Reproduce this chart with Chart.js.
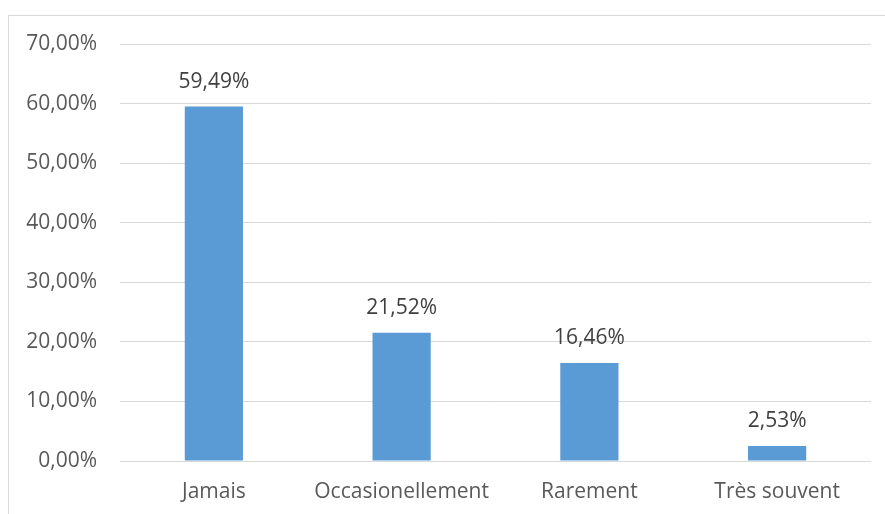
<!DOCTYPE html>
<html lang="fr">
<head>
  <meta charset="UTF-8">
  <title>Fréquence</title>
  <script src="https://cdn.jsdelivr.net/npm/chart.js@4.4.0/dist/chart.umd.min.js"></script>
  <style>
    html, body { margin: 0; padding: 0; background: #fff; }
    #wrap { width: 885px; height: 514px; position: relative; }
  </style>
</head>
<body>
  <div id="wrap"><canvas id="chart"></canvas></div>
  <script>
    const categories = ['Jamais', 'Occasionellement', 'Rarement', 'Très souvent'];
    const values = [59.49, 21.52, 16.46, 2.53];
    const yTicks = [0, 10, 20, 30, 40, 50, 60, 70];

    const FONT = '"Open Sans", "Noto Sans", sans-serif';

    // formats 59.49 as "59,49%"
    function pct(v) {
      return v.toFixed(2).replace('.', ',') + '%';
    }

    // light frame around the whole chart
    const frame = {
      id: 'frame',
      beforeDraw(chart) {
        const ctx = chart.ctx;
        ctx.save();
        ctx.strokeStyle = '#d9d9d9';
        ctx.lineWidth = 1;
        ctx.strokeRect(8.5, 15.5, 1000, 1000);
        ctx.restore();
      }
    };

    // value above every bar
    const valueLabels = {
      id: 'valueLabels',
      afterDatasetsDraw(chart) {
        const ctx = chart.ctx;
        const meta = chart.getDatasetMeta(0);
        ctx.save();
        ctx.font = '21px ' + FONT;
        ctx.fillStyle = '#404040';
        ctx.textAlign = 'center';
        ctx.textBaseline = 'middle';
        meta.data.forEach((bar, i) => {
          ctx.fillText(pct(values[i]), bar.x, bar.y - 25);
        });
        ctx.restore();
      }
    };

    new Chart(document.getElementById('chart'), {
      type: 'bar',
      data: {
        labels: categories,
        datasets: [{
          data: values,
          backgroundColor: '#5b9bd5',
          borderWidth: 0,
          barPercentage: 0.62,
          categoryPercentage: 0.5
        }]
      },
      options: {
        responsive: true,
        maintainAspectRatio: false,
        animation: false,
        layout: { padding: { top: 44, right: 14, left: 0, bottom: 0 } },
        plugins: {
          legend: { display: false },
          tooltip: { enabled: false }
        },
        scales: {
          x: {
            grid: { display: false, drawTicks: false },
            border: { display: false },
            ticks: { color: '#595959', font: { family: FONT, size: 21 }, padding: 18 },
            afterFit(scale) { scale.height = 53; }
          },
          y: {
            min: 0,
            max: 70,
            afterBuildTicks(scale) { scale.ticks = yTicks.map(v => ({ value: v })); },
            grid: { color: '#d9d9d9', lineWidth: 1, drawTicks: false },
            border: { display: false },
            ticks: {
              color: '#595959',
              font: { family: FONT, size: 21 },
              padding: 23,
              callback: v => pct(v)
            },
            afterFit(scale) { scale.width = 120; }
          }
        }
      },
      plugins: [frame, valueLabels]
    });
  </script>
</body>
</html>
